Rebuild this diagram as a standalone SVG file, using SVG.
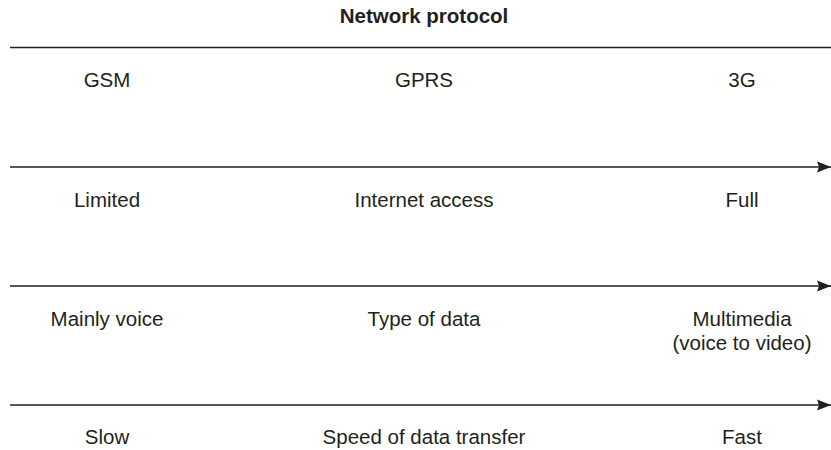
<svg xmlns="http://www.w3.org/2000/svg" width="831" height="450" viewBox="0 0 831 450">
  <style>
    .lbl { font-family: "Liberation Sans", Arial, Helvetica, sans-serif; font-size: 20.5px; fill: #231f20; text-anchor: middle; }
    .title { font-weight: bold; }
    .rule { stroke: #231f20; stroke-width: 1.6; fill: none; }
  </style>
  <defs>
    <marker id="head" markerUnits="userSpaceOnUse" markerWidth="14" markerHeight="12" refX="14" refY="6" orient="auto">
      <path d="M0,0.5 L14,6 L0,11.5 L2,6 Z" fill="#231f20"/>
    </marker>
  </defs>
  <rect width="831" height="450" fill="#ffffff"/>

  <g id="title">
    <text class="lbl title" x="424" y="23">Network protocol</text>
  </g>

  <g id="connectors">
    <line class="rule" x1="10" y1="47.5" x2="831" y2="47.5"/>
    <line class="rule" x1="10" y1="167" x2="831" y2="167" marker-end="url(#head)"/>
    <line class="rule" x1="10" y1="286" x2="831" y2="286" marker-end="url(#head)"/>
    <line class="rule" x1="10" y1="405" x2="831" y2="405" marker-end="url(#head)"/>
  </g>

  <g id="row-protocol">
    <text class="lbl" x="107" y="86.5">GSM</text>
    <text class="lbl" x="424" y="86.5">GPRS</text>
    <text class="lbl" x="742" y="86.5">3G</text>
  </g>

  <g id="row-internet">
    <text class="lbl" x="107" y="206.5">Limited</text>
    <text class="lbl" x="424" y="206.5">Internet access</text>
    <text class="lbl" x="742" y="206.5">Full</text>
  </g>

  <g id="row-data">
    <text class="lbl" x="107" y="326">Mainly voice</text>
    <text class="lbl" x="424" y="326">Type of data</text>
    <text class="lbl" x="742" y="326">Multimedia</text>
    <text class="lbl" x="742" y="349.5">(voice to video)</text>
  </g>

  <g id="row-speed">
    <text class="lbl" x="107" y="444">Slow</text>
    <text class="lbl" x="424" y="444">Speed of data transfer</text>
    <text class="lbl" x="742" y="444">Fast</text>
  </g>
</svg>
